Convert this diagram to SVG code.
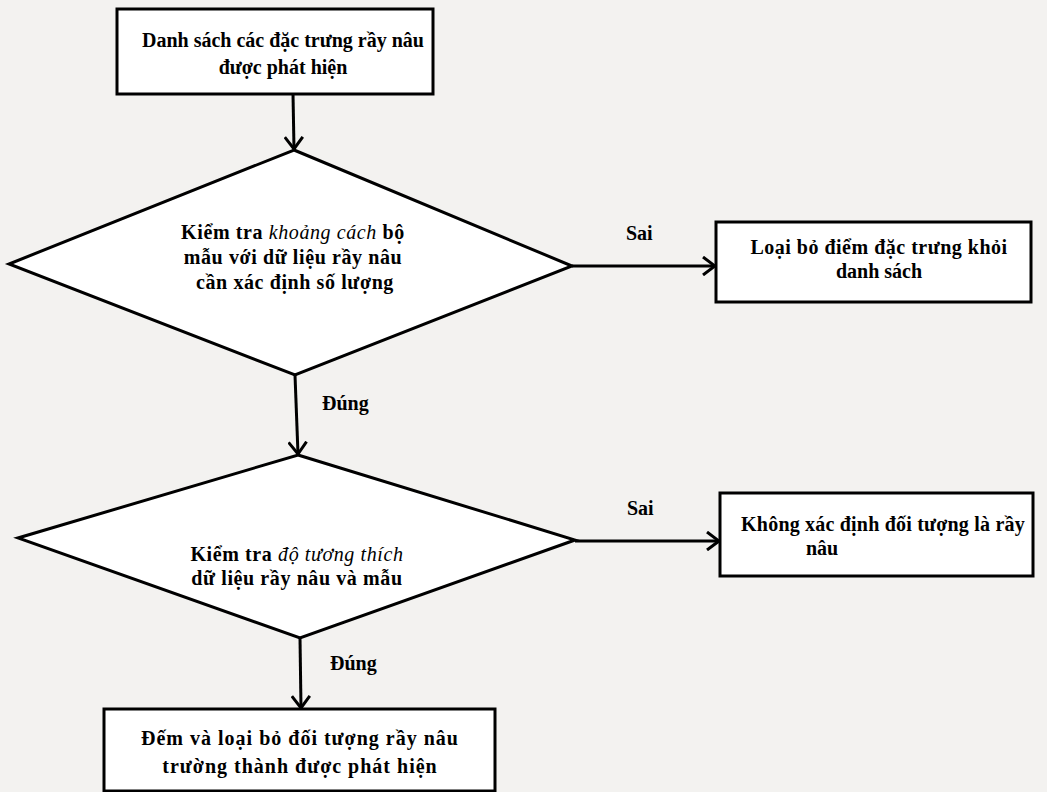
<svg xmlns="http://www.w3.org/2000/svg" width="1047" height="792" viewBox="0 0 1047 792">
<style>
.bg{fill:#f3f2f0}
.box{fill:#ffffff;stroke:#000;stroke-width:3}
.dia{fill:#ffffff;stroke:#000;stroke-width:3;stroke-linejoin:miter}
.t{font-family:"Liberation Serif","Times New Roman",serif;font-weight:bold;font-size:20px;fill:#000;text-anchor:middle}
.d{font-size:20px;letter-spacing:0.6px}
.lbl{font-family:"Liberation Serif","Times New Roman",serif;font-weight:bold;font-size:20px;fill:#000}
.c{fill:none;stroke:#000;stroke-width:3}
</style>
<defs>
<marker id="arr" viewBox="0 0 14 20" refX="13" refY="10" markerWidth="14" markerHeight="20" markerUnits="userSpaceOnUse" orient="auto">
<path d="M1,1 L13,10 L1,19" fill="none" stroke="#000" stroke-width="3"/>
</marker>
</defs>
<rect class="bg" x="0" y="0" width="1047" height="792"/>
<g id="n1">
<rect class="box" x="117" y="9" width="316" height="85"/>
<text class="t" x="283" y="47">Danh sách các đặc trưng rầy nâu</text>
<text class="t" x="283" y="74">được phát hiện</text>
</g>
<g id="n2">
<polygon class="dia" points="294,150 572,266 295,375 9,264"/>
<text class="t d" x="293" y="239"><tspan>Kiểm tra </tspan><tspan font-style="italic" font-weight="normal">khoảng cách</tspan><tspan> bộ</tspan></text>
<text class="t d" x="293" y="264">mẫu với dữ liệu rầy nâu</text>
<text class="t d" x="295" y="289">cần xác định số lượng</text>
</g>
<g id="n3">
<rect class="box" x="716" y="222" width="315" height="80"/>
<text class="t" x="879" y="254" letter-spacing="0.5">Loại bỏ điểm  đặc trưng khỏi</text>
<text class="t" x="879" y="278">danh sách</text>
</g>
<g id="n4">
<polygon class="dia" points="298,455 575,540 300,638 18,538"/>
<text class="t d" x="297" y="561"><tspan>Kiểm tra </tspan><tspan font-style="italic" font-weight="normal">độ tương thích</tspan></text>
<text class="t d" x="297" y="585">dữ liệu rầy nâu và mẫu</text>
</g>
<g id="n5">
<rect class="box" x="720" y="493" width="313" height="83"/>
<text class="t" x="883" y="531" letter-spacing="0.2">Không xác định đối tượng là rầy</text>
<text class="t" x="822" y="555">nâu</text>
</g>
<g id="n6">
<rect class="box" x="104" y="709" width="391" height="82"/>
<text class="t" x="300" y="745" font-size="21" letter-spacing="1">Đếm và loại bỏ đối tượng rầy nâu</text>
<text class="t" x="300" y="773" font-size="21" letter-spacing="1">trường thành được phát hiện</text>
</g>
<g id="connectors">
<line class="c" x1="293" y1="94" x2="294" y2="149" marker-end="url(#arr)"/>
<line class="c" x1="572" y1="266" x2="715" y2="266" marker-end="url(#arr)"/>
<text class="lbl" x="626" y="240">Sai</text>
<line class="c" x1="295" y1="375" x2="298" y2="454" marker-end="url(#arr)"/>
<text class="lbl" x="322" y="410">Đúng</text>
<line class="c" x1="575" y1="541" x2="719" y2="541" marker-end="url(#arr)"/>
<text class="lbl" x="627" y="515">Sai</text>
<line class="c" x1="300" y1="638" x2="301" y2="708" marker-end="url(#arr)"/>
<text class="lbl" x="330" y="670">Đúng</text>
</g>
</svg>
